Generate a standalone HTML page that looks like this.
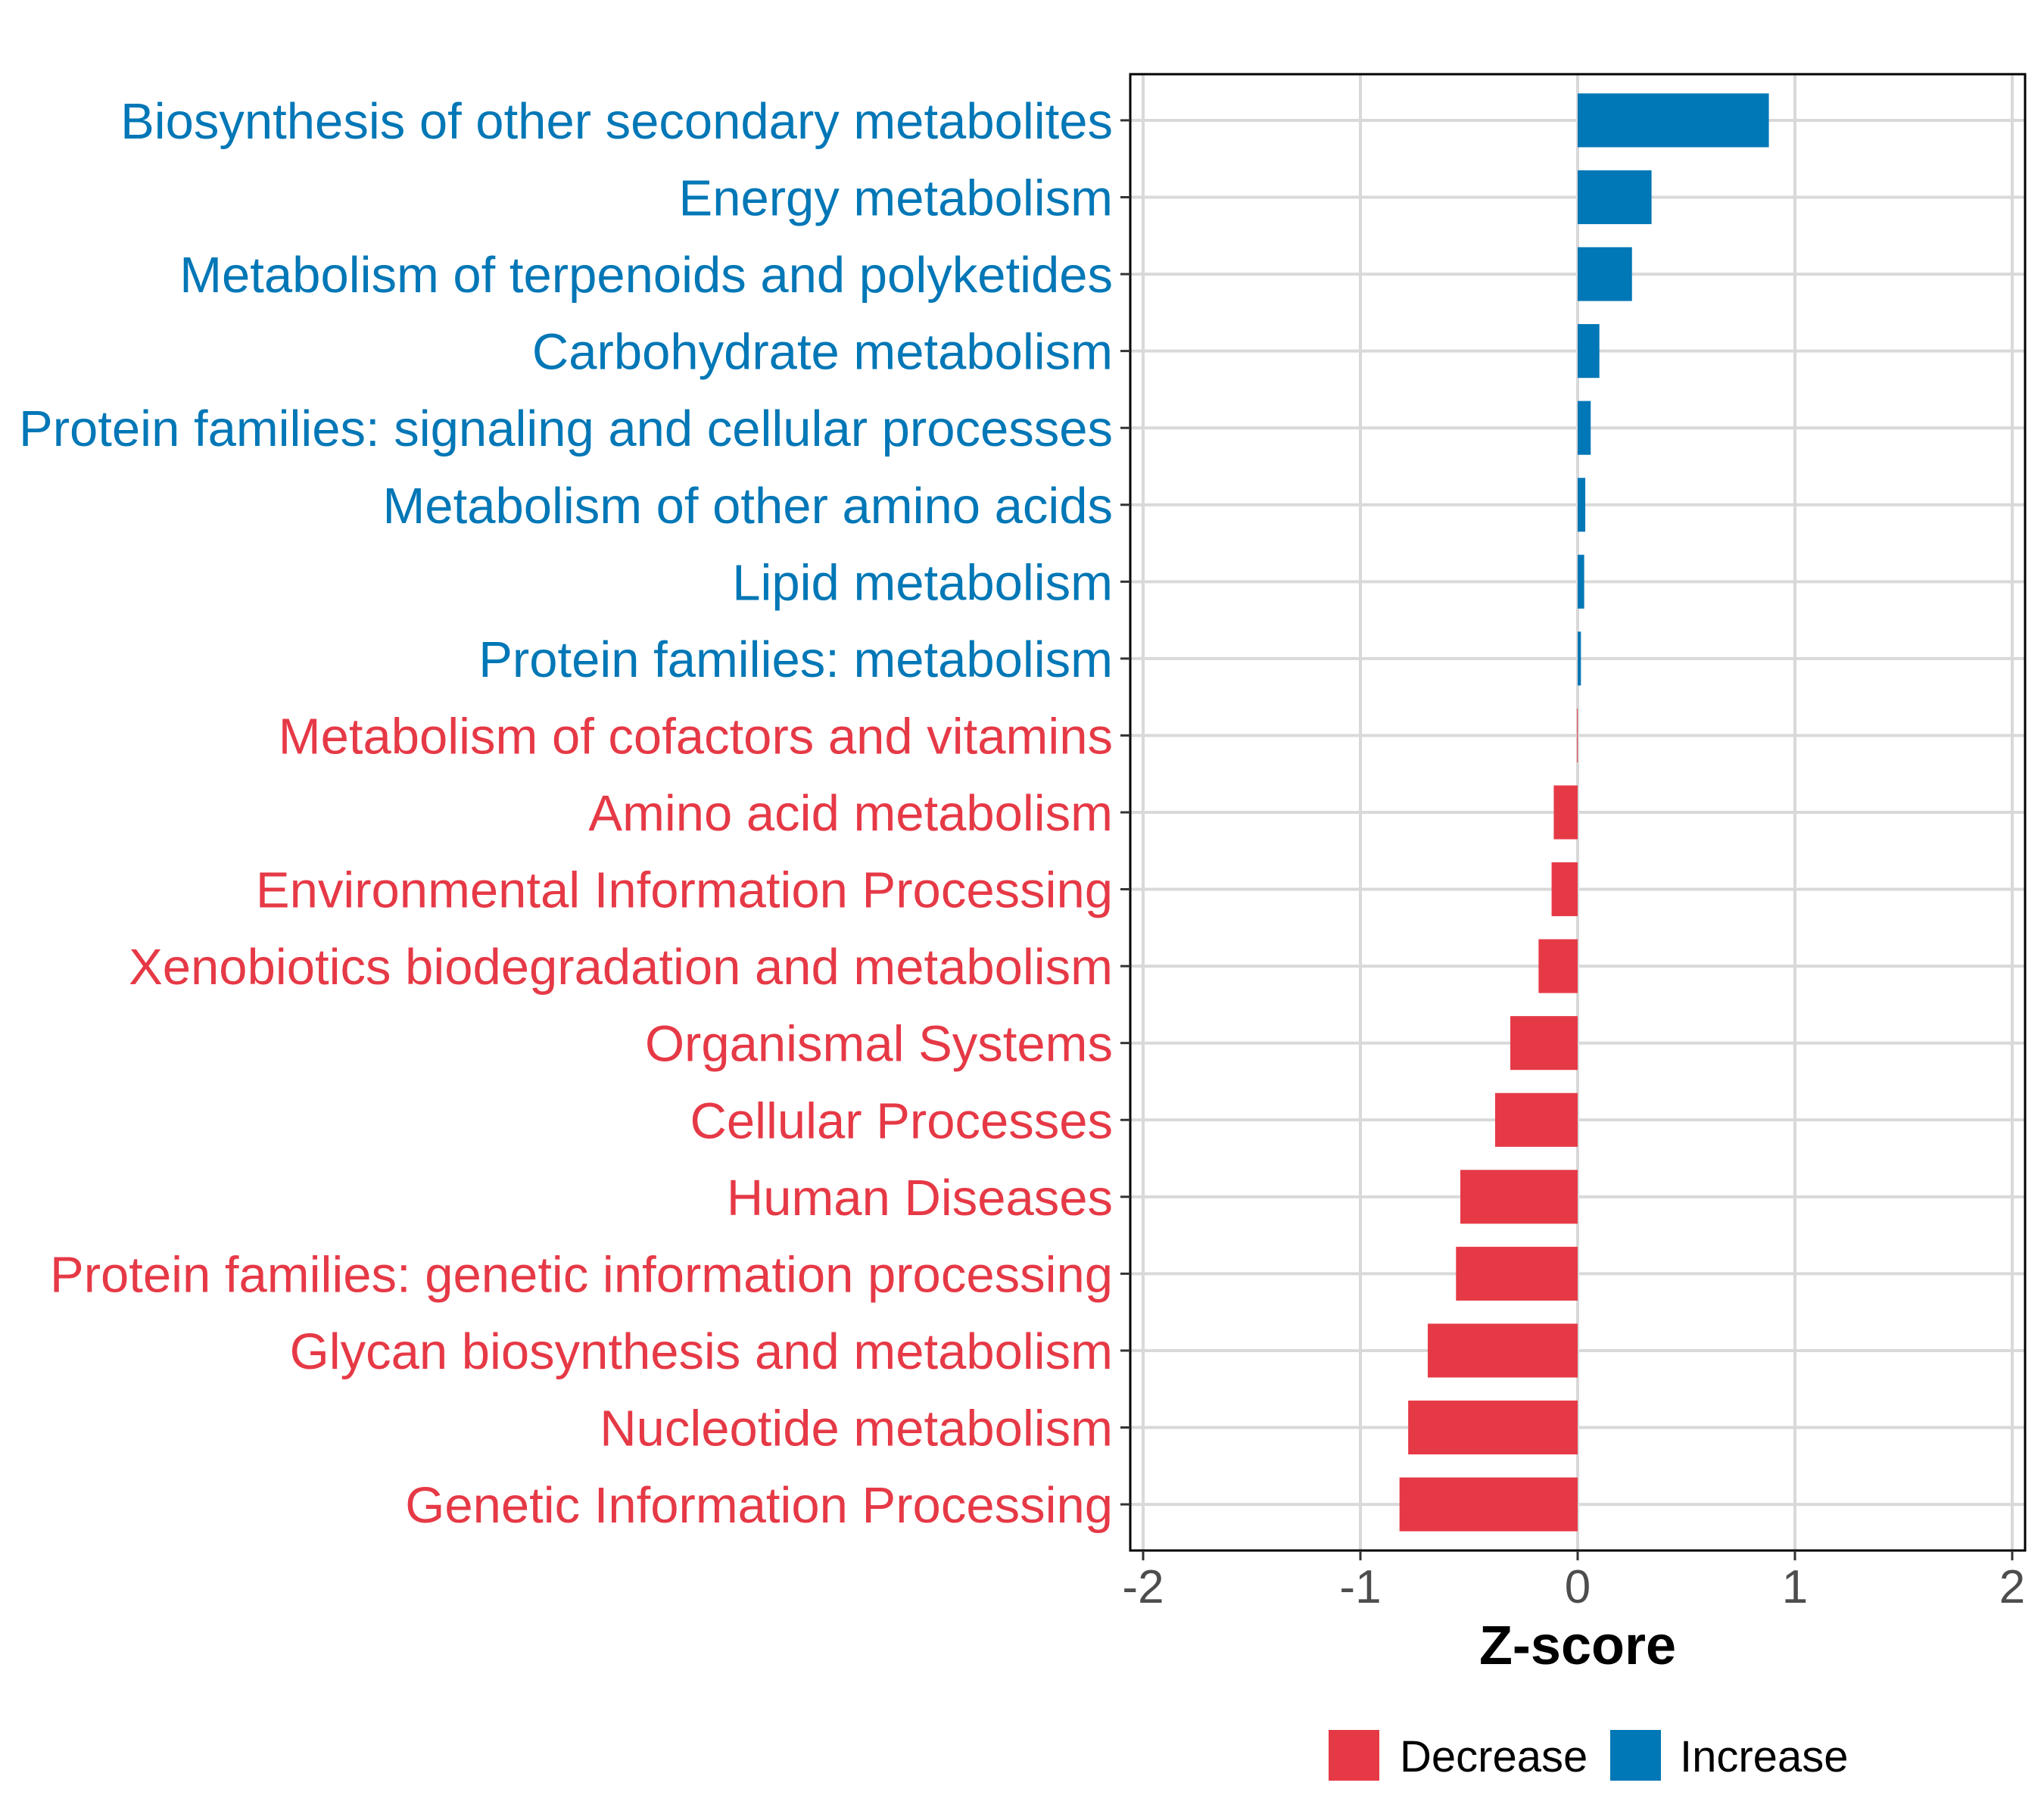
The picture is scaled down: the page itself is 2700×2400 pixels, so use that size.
<!DOCTYPE html>
<html><head><meta charset="utf-8"><style>
html,body{margin:0;padding:0;background:#fff}
svg{display:block;font-family:"Liberation Sans",Arial,sans-serif}
</style></head><body>
<svg id="chart" width="2700" height="2400" viewBox="0 0 2700 2400">
<g id="grid"></g>
<g id="bars"></g>
<rect x="1493" y="98" width="1182" height="1950" fill="none" stroke="#000" stroke-width="3"/>
<g id="ylabels"></g>
<g id="xticks"></g>
<text x="2084" y="2198" text-anchor="middle" font-size="72" font-weight="bold" fill="#000">Z-score</text>
<g>
<rect x="1755" y="2285" width="67" height="67" fill="#E63946"/>
<text x="1849" y="2340" font-size="58" fill="#000">Decrease</text>
<rect x="2127" y="2285" width="67" height="67" fill="#0077B6"/>
<text x="2219" y="2340" font-size="58" fill="#000">Increase</text>
</g>
</svg>
<script>
const categories = ["Biosynthesis of other secondary metabolites","Energy metabolism","Metabolism of terpenoids and polyketides","Carbohydrate metabolism","Protein families: signaling and cellular processes","Metabolism of other amino acids","Lipid metabolism","Protein families: metabolism","Metabolism of cofactors and vitamins","Amino acid metabolism","Environmental Information Processing","Xenobiotics biodegradation and metabolism","Organismal Systems","Cellular Processes","Human Diseases","Protein families: genetic information processing","Glycan biosynthesis and metabolism","Nucleotide metabolism","Genetic Information Processing"];
const zscores = [0.88,0.34,0.25,0.10,0.06,0.035,0.03,0.015,-0.003,-0.11,-0.12,-0.18,-0.31,-0.38,-0.54,-0.56,-0.69,-0.78,-0.82];
const xTicks = [-2,-1,0,1,2];
const xTickLabels = ["-2","-1","0","1","2"];

const NS="http://www.w3.org/2000/svg";
const PL=1493, PR=2675, PT=98, PB=2048;
const x0=2084, unit=287;
const xs=v=>x0+v*unit;
const rowStep=(PB-PT)/(categories.length-1+1.2);
const ys=i=>PT+rowStep*0.6+i*rowStep;
const BLUE="#0077B6", RED="#E63946";
function mk(tag,attrs,parent){const e=document.createElementNS(NS,tag);for(const k in attrs)e.setAttribute(k,attrs[k]);parent.appendChild(e);return e;}
const grid=document.getElementById('grid'),bars=document.getElementById('bars'),yl=document.getElementById('ylabels'),xt=document.getElementById('xticks');
xTicks.forEach((t,i)=>{
  const l=mk('line',{x1:xs(t),x2:xs(t),y1:PT,y2:PB,stroke:"#d9d9d9","stroke-width":4},grid);
  
  
  const tk=mk('line',{x1:xs(t),x2:xs(t),y1:PB,y2:PB+13,stroke:"#333","stroke-width":3},xt);
  
  
  const tx=mk('text',{x:xs(t),y:2117,"text-anchor":"middle","font-size":62,fill:"#4d4d4d"},xt);
  tx.textContent=xTickLabels[i];
  
  
});
categories.forEach((c,i)=>{
  const y=ys(i), v=zscores[i], col=v>=0?BLUE:RED;
  const g=mk('line',{x1:PL,x2:PR,y1:y,y2:y,stroke:"#d9d9d9","stroke-width":4},grid);
  
  
  const h=rowStep*0.7;
  const b=mk('rect',{x:Math.min(xs(0),xs(v)),y:y-h/2,width:Math.max(Math.abs(xs(v)-xs(0)),1),height:h,fill:col},bars);
  
  
  const tk=mk('line',{x1:PL-13,x2:PL,y1:y,y2:y,stroke:"#333","stroke-width":3},yl);
  
  
  const t=mk('text',{x:PL-23,y:y+24,"text-anchor":"end","font-size":67,fill:col},yl);
  t.textContent=c;
  
  
});
</script>
</body></html>
